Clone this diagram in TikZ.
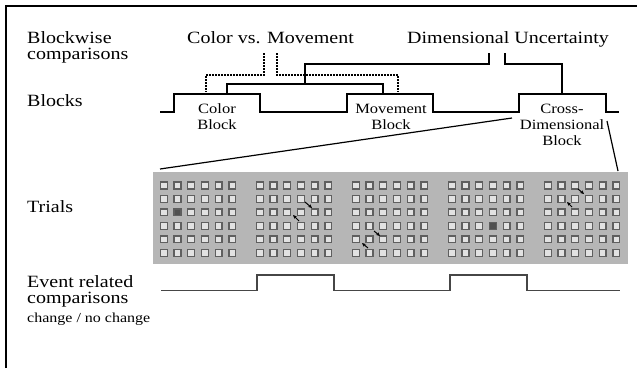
\documentclass[tikz,border=0pt]{standalone}
\usepackage{fontspec}
\setmainfont{Liberation Serif}
\usetikzlibrary{arrows.meta}
\definecolor{boxgray}{RGB}{182,182,182}
\definecolor{sqedge}{RGB}{95,95,95}
\definecolor{sqfill}{RGB}{226,226,226}
\definecolor{sqdark}{RGB}{80,80,80}
\definecolor{evgray}{RGB}{70,70,70}
\newcommand{\vtxt}[1]{\scalebox{1}[0.86]{#1}}
\begin{document}
\begin{tikzpicture}[x=1pt,y=-1pt,
  lbl/.style={inner sep=0pt,anchor=base west,font=\fontsize{20}{20}\selectfont},
  smlbl/.style={inner sep=0pt,anchor=base west,font=\fontsize{16}{16}\selectfont},
  blbl/.style={inner sep=0pt,anchor=base,font=\fontsize{16.5}{16.5}\selectfont},
  blockline/.style={line width=2pt},
  cmpline/.style={line width=1.4pt},
  dotline/.style={line width=1.4pt,dash pattern=on 1.6pt off 1.4pt},
  zoomline/.style={line width=1.2pt},
  sqbox/.style={draw=sqedge,fill=sqfill,line width=1.3pt},
  sqfull/.style={draw=sqedge,fill=sqdark,line width=1.3pt},
  mvarrow/.style={line width=1pt,-{Stealth[length=4pt,width=3.5pt]}},
  evline/.style={draw=evgray,line width=1.5pt}]
\useasboundingbox (0,0) rectangle (637,368);
\fill[white] (0,0) rectangle (637,368);
% frame
\draw[line width=2pt] (6,368) -- (6,6) -- (637,6);
% row labels
\node[lbl] (bw1) at (27,43) {\vtxt{Blockwise}};
\node[lbl] (bw2) at (27,59) {\vtxt{comparisons}};
\node[lbl] (blk) at (27,106) {\vtxt{Blocks}};
\node[lbl] (tr) at (27,212) {\vtxt{Trials}};
\node[lbl] (er1) at (27,287) {\vtxt{Event related}};
\node[lbl] (er2) at (27,303) {\vtxt{comparisons}};
\node[smlbl] (er3) at (27,322) {\vtxt{change / no change}};
% comparison titles
\node[lbl] (cvm) at (187,43) {\vtxt{Color vs. Movement}};
\node[lbl] (du) at (407,43) {\vtxt{Dimensional Uncertainty}};
% block labels
\node[blbl] (cb1) at (217,113) {\vtxt{Color}};
\node[blbl] (cb2) at (217,129) {\vtxt{Block}};
\node[blbl] (mb1) at (391,113) {\vtxt{Movement}};
\node[blbl] (mb2) at (391,129) {\vtxt{Block}};
\node[blbl] (xb1) at (562,113) {\vtxt{Cross-}};
\node[blbl] (xb2) at (562,129) {\vtxt{Dimensional}};
\node[blbl] (xb3) at (562,145) {\vtxt{Block}};
% block time line
\draw[blockline] (160,112) -- (174,112) -- (174,94) -- (260,94) -- (260,112)
  -- (347,112) -- (347,94) -- (433,94) -- (433,112) -- (519,112) -- (519,94)
  -- (606,94) -- (606,112) -- (619,112);
% color vs movement (dotted)
\coordinate (cvmL) at (264,53);
\coordinate (cvmR) at (277,53);
\draw[dotline] (cvmL) -- (264,75) -- (206,75) -- (206,92);
\draw[dotline] (cvmR) -- (277,75) -- (398,75) -- (398,92);
% dimensional uncertainty (solid)
\coordinate (duL) at (489,53);
\coordinate (duR) at (505,53);
\draw[cmpline] (duL) -- (489,64) -- (305,64) -- (305,84);
\draw[cmpline] (227,93) -- (227,84) -- (383,84) -- (383,93);
\draw[cmpline] (duR) -- (505,64) -- (562,64) -- (562,94);
% trials panel
\fill[boxgray] (153,172) rectangle (628,264);
\draw[zoomline] (160,169) -- (512,118);
\draw[zoomline] (607,121) -- (618,171);
\foreach \g in {0,...,4}{
  \foreach \c in {0,...,5}{
    \foreach \r in {0,...,5}{
      \pgfmathsetmacro{\cx}{163.75+96*\g+13.7*\c}
      \pgfmathsetmacro{\cy}{185.5+13.46*\r}
      \draw[sqbox] (\cx-3.4,\cy-3.4) rectangle (\cx+3.4,\cy+3.4);
    }
  }
}
\foreach \g/\c/\r in {0/1/2,3/3/3}{
  \pgfmathsetmacro{\cx}{163.75+96*\g+13.7*\c}
  \pgfmathsetmacro{\cy}{185.5+13.46*\r}
  \draw[sqfull] (\cx-3.4,\cy-3.4) rectangle (\cx+3.4,\cy+3.4);
}
% movement arrows
\draw[mvarrow] (305,202) -- (312,208);
\draw[mvarrow] (299,221) -- (293,215);
\draw[mvarrow] (374,231) -- (380,236);
\draw[mvarrow] (368,248) -- (362,243);
\draw[mvarrow] (578,189) -- (584,194);
\draw[mvarrow] (572,207) -- (567,202);
% event line
\draw[evline] (161,290.5) -- (257,290.5) -- (257,275) -- (334,275) -- (334,290.5)
  -- (450,290.5) -- (450,275) -- (527,275) -- (527,290.5) -- (620,290.5);
\end{tikzpicture}
\end{document}
